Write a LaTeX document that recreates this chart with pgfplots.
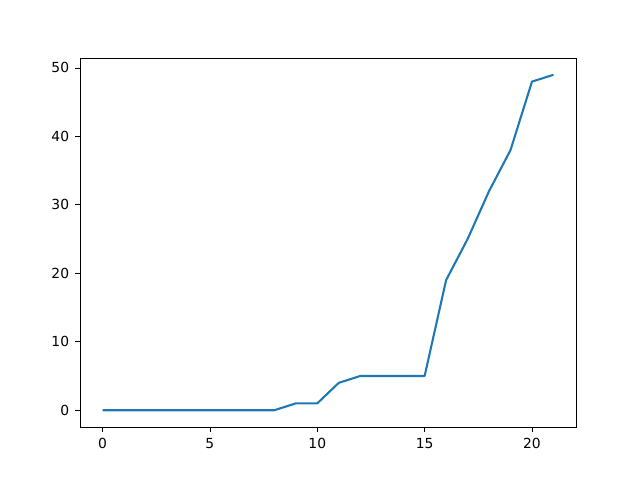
\documentclass[border=0pt]{standalone}
\usepackage{fontspec}
\setmainfont{DejaVu Sans}
\usepackage{pgfplots}
\pgfplotsset{compat=1.18}
\definecolor{mplblue}{HTML}{1F77B4}
\begin{document}
\begin{tikzpicture}
\useasboundingbox (-60pt,-39.75pt) rectangle (420pt,320.25pt);
\begin{axis}[
  at={(0,0)}, anchor=south west,
  scale only axis,
  width=372pt, height=276.75pt,
  xmin=-1.05, xmax=22.05,
  ymin=-2.45, ymax=51.45,
  xtick={0,5,10,15,20},
  ytick={0,10,20,30,40,50},
  tick align=outside,
  tick pos=left,
  major tick length=3.65pt,
  tick style={black, line width=0.6pt},
  axis line style={line width=0.6pt},
  ticklabel style={font=\fontsize{10.4pt}{12pt}\selectfont},
  /pgf/number format/assume math mode=true,
  xticklabel style={yshift=-1pt},
  yticklabel style={xshift=-1pt},
]
\addplot[mplblue, line width=1.56pt, line join=round] coordinates {
(0,0) (1,0) (2,0) (3,0) (4,0) (5,0) (6,0) (7,0) (8,0)
(9,1) (10,1) (11,4) (12,5) (13,5) (14,5) (15,5)
(16,19) (17,25) (18,32) (19,38) (20,48) (21,49)
};
\end{axis}
\end{tikzpicture}
\end{document}
